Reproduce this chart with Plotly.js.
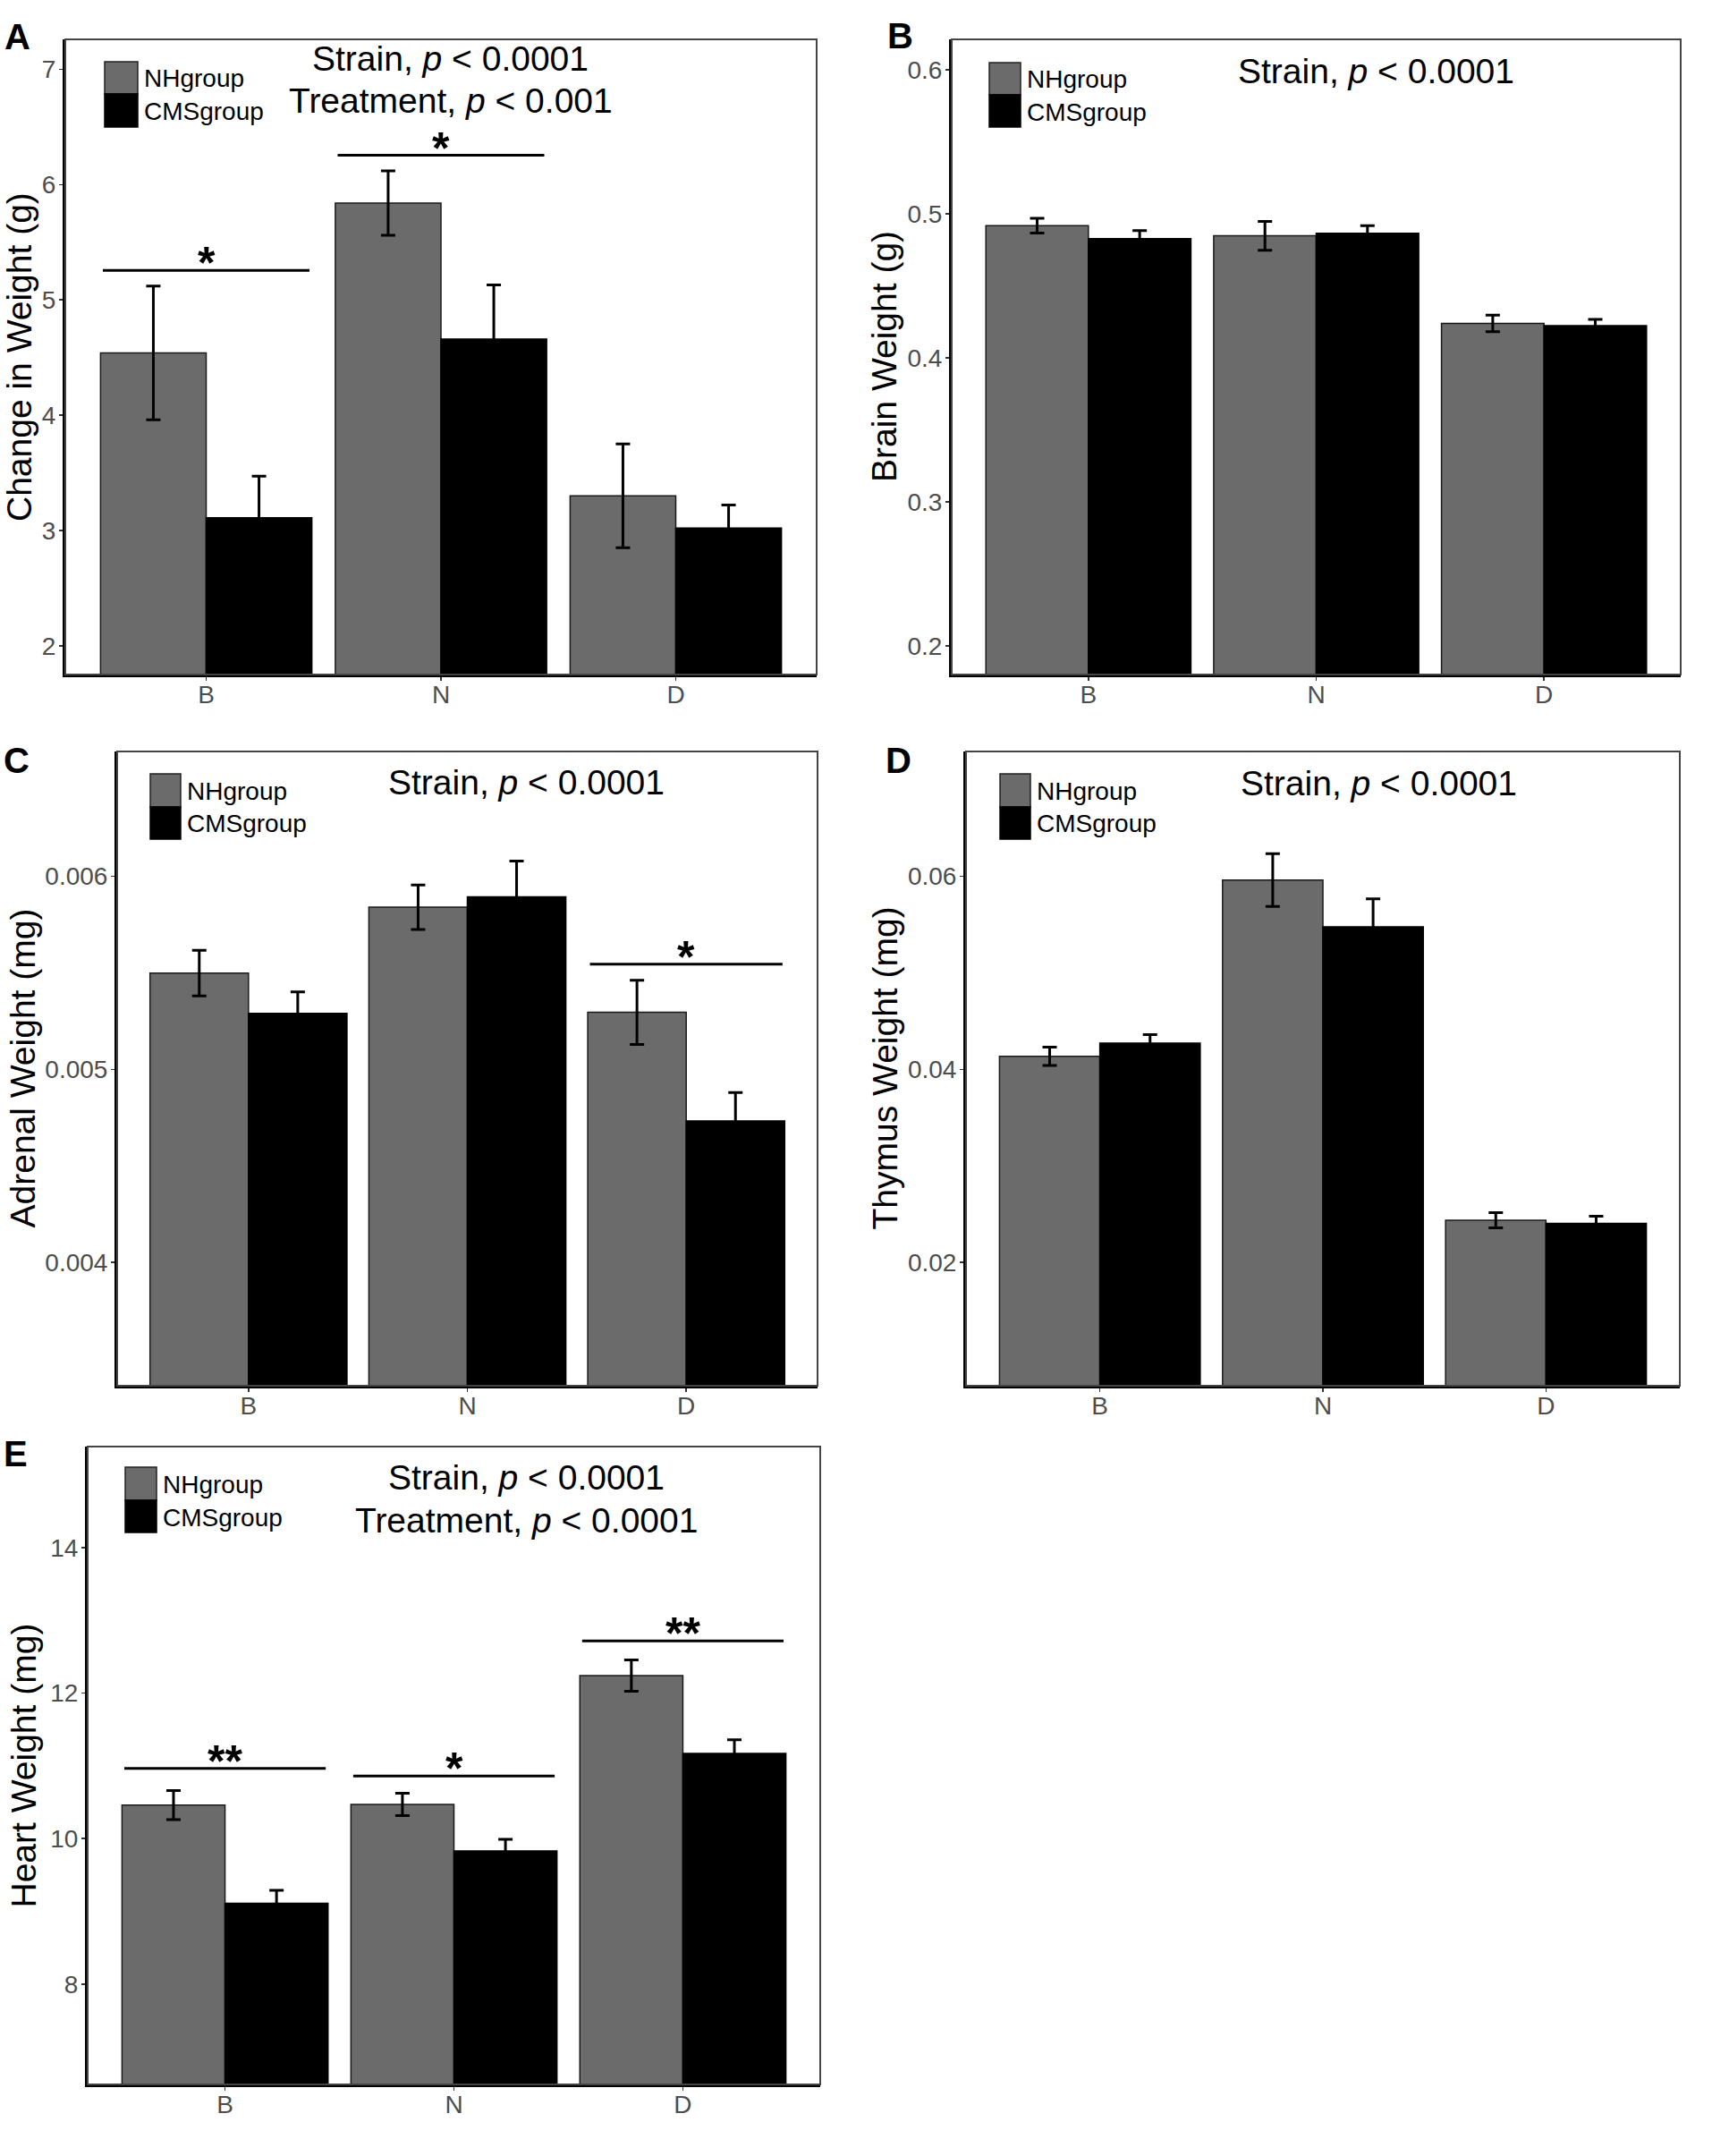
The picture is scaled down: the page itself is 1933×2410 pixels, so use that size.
<!DOCTYPE html>
<html>
<head>
<meta charset="utf-8">
<script src="https://cdn.plot.ly/plotly-3.0.1.min.js"></script>
<style>html,body{margin:0;padding:0;background:#fff;}#chart{width:1933px;height:2410px;}</style>
</head>
<body>
<div id="chart"></div>
<script>
// ---------------- DATA ----------------
const categories = ['B', 'N', 'D'];
const groupNames = ['NHgroup', 'CMSgroup'];

// A: change in weight (g)
const weightNH = [4.54, 5.84, 3.30];
const weightNHse = [0.58, 0.28, 0.45];
const weightCMS = [3.11, 4.66, 3.02];
const weightCMSse = [0.36, 0.47, 0.20];
const weightSigY = [5.255, 6.255, null];
const weightSigLabel = ['*', '*', ''];

// B: brain weight (g)
const brainNH = [0.4917, 0.4846, 0.4238];
const brainNHse = [0.0051, 0.0100, 0.0057];
const brainCMS = [0.4827, 0.4864, 0.4222];
const brainCMSse = [0.0056, 0.0053, 0.0044];

// C: adrenal weight (mg)
const adrenalNH = [0.005498, 0.005839, 0.005295];
const adrenalNHse = [0.000118, 0.000115, 0.000166];
const adrenalCMS = [0.005290, 0.005892, 0.004733];
const adrenalCMSse = [0.000111, 0.000186, 0.000147];
const adrenalSigY = [null, null, 0.005544];
const adrenalSigLabel = ['', '', '*'];

// D: thymus weight (mg)
const thymusNH = [0.04134, 0.05959, 0.02438];
const thymusNHse = [0.00095, 0.00274, 0.00079];
const thymusCMS = [0.04272, 0.05475, 0.02406];
const thymusCMSse = [0.00087, 0.00290, 0.00073];

// E: heart weight (mg)
const heartNH = [10.46, 10.47, 12.24];
const heartNHse = [0.20, 0.155, 0.215];
const heartCMS = [9.11, 9.83, 11.17];
const heartCMSse = [0.18, 0.16, 0.19];
const heartSigY = [10.964, 10.860, 12.717];
const heartSigLabel = ['**', '*', '**'];

// y-axis tick labels
const weightTicks = [2, 3, 4, 5, 6, 7];
const brainTicks = [0.2, 0.3, 0.4, 0.5, 0.6];
const adrenalTicks = [0.004, 0.005, 0.006];
const thymusTicks = [0.02, 0.04, 0.06];
const heartTicks = [8, 10, 12, 14];

// ---------------- LAYOUT HELPERS ----------------
const W = 1933, H = 2410;
const fx = px => px / W;
const fy = py => 1 - py / H;
const FONT = 'Liberation Sans, Arial, sans-serif';
const NH_COLOR = '#6b6b6b';
const CMS_COLOR = '#000000';

const panels = [
  {s: '', letter: 'A', ytitle: 'Change in Weight (g)', nh: weightNH, nhSe: weightNHse, cms: weightCMS, cmsSe: weightCMSse,
   ticks: weightTicks, fmt: 'd', range: [1.75, 7.26], sigY: weightSigY, sigLab: weightSigLabel,
   box: [73, 913, 44, 754], letterPos: [19, 41], ytitleX: 22,
   stats: ['Strain, <i>p</i> < 0.0001', 'Treatment, <i>p</i> < 0.001'], statX: 504, statY: [65, 112],
   leg: {x0: 117, x1: 154, y: [69, 105, 142], tx: 159}},
  {s: '2', letter: 'B', ytitle: 'Brain Weight (g)', nh: brainNH, nhSe: brainNHse, cms: brainCMS, cmsSe: brainCMSse,
   ticks: brainTicks, fmt: '.1f', range: [0.18, 0.621], sigY: null, sigLab: null,
   box: [1064, 1879, 44, 754], letterPos: [1006, 40], ytitleX: 989,
   stats: ['Strain, <i>p</i> < 0.0001'], statX: 1538, statY: [80],
   leg: {x0: 1106, x1: 1141, y: [70, 106, 142], tx: 1146}},
  {s: '3', letter: 'C', ytitle: 'Adrenal Weight (mg)', nh: adrenalNH, nhSe: adrenalNHse, cms: adrenalCMS, cmsSe: adrenalCMSse,
   ticks: adrenalTicks, fmt: '.3f', range: [0.003362, 0.006645], sigY: adrenalSigY, sigLab: adrenalSigLabel,
   box: [131, 914, 840, 1549], letterPos: [18, 850], ytitleX: 25,
   stats: ['Strain, <i>p</i> < 0.0001'], statX: 588, statY: [874],
   leg: {x0: 168, x1: 202, y: [865, 902, 938], tx: 207}},
  {s: '4', letter: 'D', ytitle: 'Thymus Weight (mg)', nh: thymusNH, nhSe: thymusNHse, cms: thymusCMS, cmsSe: thymusCMSse,
   ticks: thymusTicks, fmt: '.2f', range: [0.00724, 0.0729], sigY: null, sigLab: null,
   box: [1080, 1878, 840, 1549], letterPos: [1005, 850], ytitleX: 989,
   stats: ['Strain, <i>p</i> < 0.0001'], statX: 1541, statY: [875],
   leg: {x0: 1118, x1: 1152, y: [865, 902, 938], tx: 1157}},
  {s: '5', letter: 'E', ytitle: 'Heart Weight (mg)', nh: heartNH, nhSe: heartNHse, cms: heartCMS, cmsSe: heartCMSse,
   ticks: heartTicks, fmt: 'd', range: [6.62, 15.39], sigY: heartSigY, sigLab: heartSigLabel,
   box: [98, 917, 1617, 2330], letterPos: [17, 1625], ytitleX: 26,
   stats: ['Strain, <i>p</i> < 0.0001', 'Treatment, <i>p</i> < 0.0001'], statX: 588, statY: [1651, 1699],
   leg: {x0: 140, x1: 175, y: [1640, 1677, 1713], tx: 180}}
];

const traces = [];
const shapes = [];
const annotations = [];
const layout = {
  width: W, height: H,
  margin: {l: 0, r: 0, t: 0, b: 0},
  paper_bgcolor: '#fff', plot_bgcolor: '#fff',
  barmode: 'group', bargap: 0.1, bargroupgap: 0,
  showlegend: false,
  font: {family: FONT, color: '#000'}
};

panels.forEach(p => {
  const xa = 'x' + p.s, ya = 'y' + p.s;
  const errBase = {type: 'data', visible: true, color: '#000', thickness: 3, width: 8};
  traces.push({
    type: 'bar', name: groupNames[0], x: categories, y: p.nh, xaxis: xa, yaxis: ya,
    marker: {color: NH_COLOR, line: {color: '#1a1a1a', width: 1.5}},
    error_y: Object.assign({array: p.nhSe}, errBase), hoverinfo: 'x+y'
  });
  traces.push({
    type: 'bar', name: groupNames[1], x: categories, y: p.cms, xaxis: xa, yaxis: ya,
    marker: {color: CMS_COLOR, line: {color: '#000', width: 1.5}},
    error_y: Object.assign({array: p.cmsSe}, errBase), hoverinfo: 'x+y'
  });

  const [x0, x1, y0, y1] = p.box;
  layout['xaxis' + p.s] = {
    domain: [fx(x0), fx(x1)], anchor: ya, type: 'category',
    categoryorder: 'array', categoryarray: categories, range: [-0.6, 2.6],
    showline: true, linecolor: '#000', linewidth: 3, mirror: false,
    ticks: 'outside', ticklen: 4, tickwidth: 1.5, tickcolor: '#333',
    ticklabelstandoff: -9,
    tickfont: {family: FONT, size: 28, color: '#4d4d4d'},
    showgrid: false, zeroline: false, fixedrange: true
  };
  layout['yaxis' + p.s] = {
    domain: [fy(y1), fy(y0)], anchor: xa, range: p.range,
    tickmode: 'array', tickvals: p.ticks, tickformat: p.fmt,
    showline: true, linecolor: '#000', linewidth: 3,
    ticks: 'outside', ticklen: 4, tickwidth: 1.5, tickcolor: '#333',
    ticklabelstandoff: -2,
    tickfont: {family: FONT, size: 28, color: '#4d4d4d'},
    showgrid: false, zeroline: false, fixedrange: true
  };

  // panel border (top / right)
  shapes.push({type: 'rect', xref: xa + ' domain', yref: ya + ' domain', x0: 0, x1: 1, y0: 0, y1: 1,
    line: {color: '#444', width: 2}, fillcolor: 'rgba(0,0,0,0)', layer: 'above'});

  // significance brackets
  if (p.sigY) {
    p.sigY.forEach((v, i) => {
      if (v === null) return;
      shapes.push({type: 'line', xref: xa, yref: ya, x0: i - 0.44, x1: i + 0.44, y0: v, y1: v,
        line: {color: '#000', width: 3}});
      annotations.push({xref: xa, yref: ya, x: categories[i], y: v, text: '<b>' + p.sigLab[i] + '</b>',
        showarrow: false, yanchor: 'bottom', yshift: -22,
        font: {family: FONT, size: 50, color: '#000'}});
    });
  }

  // legend keys
  const L = p.leg;
  shapes.push({type: 'rect', xref: 'paper', yref: 'paper', x0: fx(L.x0), x1: fx(L.x1), y0: fy(L.y[1]), y1: fy(L.y[0]),
    fillcolor: NH_COLOR, line: {color: '#222', width: 1.5}});
  shapes.push({type: 'rect', xref: 'paper', yref: 'paper', x0: fx(L.x0), x1: fx(L.x1), y0: fy(L.y[2]), y1: fy(L.y[1]),
    fillcolor: CMS_COLOR, line: {color: '#000', width: 1.5}});
  groupNames.forEach((g, k) => {
    annotations.push({xref: 'paper', yref: 'paper', x: fx(L.tx), y: fy((L.y[k] + L.y[k + 1]) / 2 + 1),
      text: g, showarrow: false, xanchor: 'left', yanchor: 'middle',
      font: {family: FONT, size: 28, color: '#000'}});
  });

  // statistics text
  p.stats.forEach((t, k) => {
    annotations.push({xref: 'paper', yref: 'paper', x: fx(p.statX), y: fy(p.statY[k]), text: t,
      showarrow: false, xanchor: 'center', yanchor: 'middle',
      font: {family: FONT, size: 39, color: '#000'}});
  });

  // y-axis title
  annotations.push({xref: 'paper', yref: 'paper', x: fx(p.ytitleX), y: fy((y0 + y1) / 2), text: p.ytitle,
    textangle: -90, showarrow: false, xanchor: 'center', yanchor: 'middle',
    font: {family: FONT, size: 39, color: '#000'}});

  // panel letter
  annotations.push({xref: 'paper', yref: 'paper', x: fx(p.letterPos[0]), y: fy(p.letterPos[1]), text: '<b>' + p.letter + '</b>',
    showarrow: false, xanchor: 'center', yanchor: 'middle',
    font: {family: FONT, size: 40, color: '#000'}});
});

layout.shapes = shapes;
layout.annotations = annotations;

Plotly.newPlot('chart', traces, layout, {staticPlot: true, displayModeBar: false});
</script>
</body>
</html>
